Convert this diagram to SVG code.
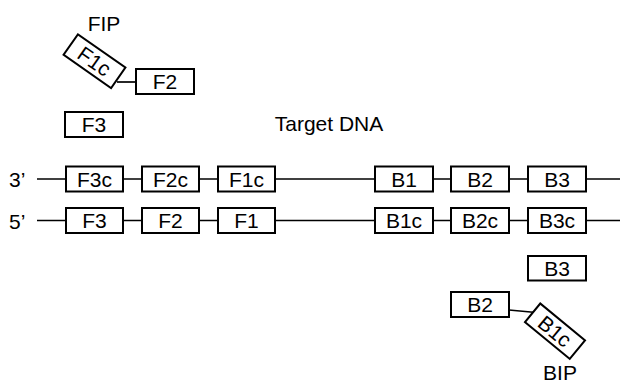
<svg xmlns="http://www.w3.org/2000/svg" width="620" height="383" viewBox="0 0 620 383">
<style>
.box{fill:#fff;stroke:#000;stroke-width:2}
.ln{stroke:#000;stroke-width:1.7;fill:none}
text{font-family:"Liberation Sans",Arial,sans-serif;font-size:21px;fill:#000}
.c{text-anchor:middle}
</style>
<rect width="620" height="383" fill="#fff"/>
<g id="connectors">
<line class="ln" x1="37" y1="179" x2="620" y2="179"/>
<line class="ln" x1="37" y1="220.5" x2="620" y2="220.5"/>
<line class="ln" x1="117" y1="82" x2="136" y2="82"/>
<line class="ln" x1="509" y1="310" x2="536" y2="312.5"/>
</g>
<g id="label-fip"><text class="c" x="104" y="31">FIP</text></g>
<g id="label-target"><text class="c" x="329" y="131">Target DNA</text></g>
<g id="label-3"><text x="9" y="187">3’</text></g>
<g id="label-5"><text x="9" y="228.5">5’</text></g>
<g id="label-bip"><text class="c" x="560" y="380">BIP</text></g>
<g id="fip-f1c" transform="translate(94.5,61.2) rotate(35)"><rect class="box" x="-29" y="-12.5" width="58" height="25"/><text class="c" x="0" y="7.5">F1c</text></g>
<g id="fip-f2"><rect class="box" x="136" y="69" width="58" height="25"/><text class="c" x="165" y="89">F2</text></g>
<g id="primer-f3"><rect class="box" x="65" y="112" width="58" height="25"/><text class="c" x="94" y="132">F3</text></g>
<g id="t-f3c"><rect class="box" x="66" y="166.5" width="57" height="25"/><text class="c" x="94.5" y="186.5">F3c</text></g>
<g id="t-f2c"><rect class="box" x="142" y="166.5" width="57" height="25"/><text class="c" x="170.5" y="186.5">F2c</text></g>
<g id="t-f1c"><rect class="box" x="218" y="166.5" width="57" height="25"/><text class="c" x="246.5" y="186.5">F1c</text></g>
<g id="t-b1"><rect class="box" x="375" y="166.5" width="58" height="25"/><text class="c" x="404" y="186.5">B1</text></g>
<g id="t-b2"><rect class="box" x="451" y="166.5" width="58" height="25"/><text class="c" x="480" y="186.5">B2</text></g>
<g id="t-b3"><rect class="box" x="528" y="166.5" width="58" height="25"/><text class="c" x="557" y="186.5">B3</text></g>
<g id="b-f3"><rect class="box" x="66" y="208" width="57" height="25"/><text class="c" x="94.5" y="228">F3</text></g>
<g id="b-f2"><rect class="box" x="142" y="208" width="57" height="25"/><text class="c" x="170.5" y="228">F2</text></g>
<g id="b-f1"><rect class="box" x="218" y="208" width="57" height="25"/><text class="c" x="246.5" y="228">F1</text></g>
<g id="b-b1c"><rect class="box" x="375" y="208" width="58" height="25"/><text class="c" x="404" y="228">B1c</text></g>
<g id="b-b2c"><rect class="box" x="451" y="208" width="58" height="25"/><text class="c" x="480" y="228">B2c</text></g>
<g id="b-b3c"><rect class="box" x="528" y="208" width="58" height="25"/><text class="c" x="557" y="228">B3c</text></g>
<g id="primer-b3"><rect class="box" x="528" y="256" width="58" height="24.5"/><text class="c" x="557" y="275.5">B3</text></g>
<g id="bip-b2"><rect class="box" x="451" y="292" width="58" height="25"/><text class="c" x="480" y="312">B2</text></g>
<g id="bip-b1c" transform="translate(555,331.2) rotate(39.5)"><rect class="box" x="-29" y="-12" width="58" height="24"/><text class="c" x="0" y="7.5">B1c</text></g>
</svg>
